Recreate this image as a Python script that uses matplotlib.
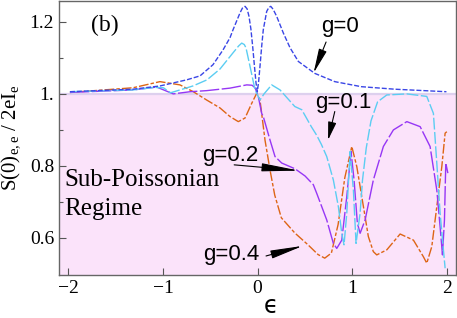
import matplotlib
matplotlib.use("Agg")
import matplotlib.pyplot as plt
from matplotlib.ticker import FixedLocator

plt.rcParams['mathtext.fontset'] = 'custom'
plt.rcParams['mathtext.rm'] = 'Liberation Serif'
plt.rcParams['mathtext.it'] = 'Liberation Serif:italic'

# ---- data ----
eps_g0 = [-1.984, -1.317, -1.032, -0.749, -0.608, -0.471, -0.365, -0.291, -0.259, -0.185,
          -0.16, -0.132, -0.11, -0.090, -0.070, -0.051, -0.030, -0.016, -0.002, 0.012, 0.026,
          0.045, 0.061, 0.097, 0.12, 0.140, 0.165, 0.203, 0.273, 0.344, 0.432, 0.605, 0.817,
          1.098, 1.452, 1.998]
S_g0 = [1.006, 1.013, 1.022, 1.039, 1.050, 1.081, 1.122, 1.156, 1.178, 1.225,
        1.238, 1.243, 1.236, 1.215, 1.180, 1.131, 1.070, 1.031, 1.006, 1.035, 1.076,
        1.135, 1.178, 1.229, 1.240, 1.243, 1.235, 1.215, 1.169, 1.128, 1.090, 1.057, 1.034,
        1.020, 1.013, 1.006]

eps_g01 = [-1.984, -1.317, -1.085, -0.995, -0.921, -0.820, -0.683, -0.534, -0.397, -0.259,
           -0.200, -0.167, -0.140, -0.122, -0.079, -0.026, 0.026, 0.069, 0.150, 0.238, 0.394,
           0.468, 0.569, 0.626, 0.675, 0.732, 0.802, 0.855, 0.891, 0.915, 0.944, 0.979, 1.014,
           1.042, 1.085, 1.110, 1.150, 1.200, 1.270, 1.367, 1.579, 1.790, 1.860, 1.896, 1.931,
           1.966, 1.984]
S_g01 = [1.006, 1.011, 1.018, 1.017, 1.003, 1.011, 1.022, 1.039, 1.069, 1.114,
         1.133, 1.141, 1.137, 1.128, 1.076, 1.011, 0.983, 1.000, 1.025, 1.011, 0.965,
         0.956, 0.909, 0.885, 0.860, 0.826, 0.761, 0.687, 0.613, 0.581, 0.669, 0.840, 0.733,
         0.585, 0.669, 0.760, 0.850, 0.925, 0.978, 0.997, 1.000, 0.993, 0.946, 0.808, 0.669,
         0.567, 0.516]

eps_g02 = [-1.984, -1.317, -1.067, -0.891, -0.714, -0.538, -0.291, -0.114, -0.058, -0.026,
           0.008, 0.044, 0.061, 0.132, 0.185, 0.256, 0.397, 0.503, 0.590, 0.626, 0.732, 0.802,
           0.838, 0.891, 0.944, 0.989, 1.021, 1.056, 1.085, 1.138, 1.225, 1.331, 1.437, 1.579,
           1.720, 1.825, 1.896, 1.931, 1.956, 1.977, 1.991, 2.013]
S_g02 = [1.004, 1.011, 1.019, 1.000, 1.006, 1.009, 1.016, 1.025, 1.024, 1.017,
         0.993, 0.946, 0.937, 0.872, 0.826, 0.808, 0.792, 0.772, 0.748, 0.724, 0.650, 0.585,
         0.571, 0.594, 0.715, 0.840, 0.761, 0.641, 0.613, 0.650, 0.761, 0.854, 0.900, 0.923,
         0.909, 0.854, 0.733, 0.631, 0.553, 0.650, 0.808, 0.780]

eps_g04 = [-1.984, -1.317, -1.032, -0.820, -0.679, -0.538, -0.397, -0.291, -0.203, -0.132,
           -0.061, -0.008, 0.026, 0.079, 0.132, 0.182, 0.252, 0.394, 0.534, 0.640, 0.711,
           0.781, 0.852, 0.923, 0.997, 1.050, 1.120, 1.172, 1.225, 1.261, 1.367, 1.508, 1.649,
           1.754, 1.790, 1.843, 1.896, 1.949, 1.984, 2.002]
S_g04 = [1.004, 1.017, 1.034, 1.025, 1.006, 0.983, 0.961, 0.937, 0.923, 0.933,
         0.974, 1.002, 0.983, 0.872, 0.789, 0.719, 0.656, 0.614, 0.581, 0.554, 0.544,
         0.558, 0.637, 0.767, 0.854, 0.798, 0.687, 0.604, 0.562, 0.553, 0.567, 0.611, 0.594,
         0.548, 0.530, 0.576, 0.687, 0.798, 0.891, 0.895]

xticks = [-2, -1, 0, 1, 2]
xticklabels = ['\u22122', '\u22121', '0', '1', '2']
yticks = [0.6, 0.8, 1.0, 1.2]
yticklabels = ['0.6', '0.8', '1.', '1.2']
yminor = [0.7, 0.9, 1.1]

# ---- figure ----
fig = plt.figure(figsize=(4.57, 3.18), dpi=100)
ax = fig.add_axes([0.129, 0.135, 0.869, 0.862])
ax.set_xlim(-2.1, 2.1)
ax.set_ylim(0.497, 1.258)

ax.axhspan(0.0, 1.0, color='#FBE3FA', zorder=0, lw=0)
ax.axhline(1.0, color='#DDD0EE', lw=1.6, zorder=1)

lw = 1.0
ax.plot(eps_g0, S_g0, color='#3A46E6', lw=lw, dashes=(3.6, 1.4), zorder=5)
ax.plot(eps_g01, S_g01, color='#5BCDF2', lw=lw, dashes=(8.5, 1.8), zorder=4)
ax.plot(eps_g02, S_g02, color='#9636F5', lw=lw, dashes=(14, 1.8), zorder=3)
ax.plot(eps_g04, S_g04, color='#DD6515', lw=lw, dashes=(7, 1.5, 2.5, 1.5), zorder=2)

ax.set_xticks(xticks)
ax.set_xticklabels(xticklabels)
ax.set_yticks(yticks)
ax.set_yticklabels(yticklabels)
ax.yaxis.set_minor_locator(FixedLocator(yminor))
ax.tick_params(which='both', direction='in', top=False, right=False, color='#555555',
               labelsize=14, width=0.8)
ax.tick_params(which='major', length=5)
ax.tick_params(which='minor', length=3)
for lab in ax.get_xticklabels() + ax.get_yticklabels():
    lab.set_fontfamily('Liberation Serif')
for sp in ax.spines.values():
    sp.set_color('#666666')
    sp.set_linewidth(1.0)

ax.set_ylabel(r'S(0)$_{\mathrm{e,e}}$ / 2eI$_{\mathrm{e}}$', fontfamily='Liberation Serif',
              fontsize=15)
ax.yaxis.set_label_coords(-0.092, 0.5)
ax.set_xlabel('\u03f5', fontfamily='DejaVu Sans', fontsize=17)
ax.xaxis.set_label_coords(0.535, -0.07)

ax.text(-1.62, 1.19, '(b)', fontfamily='Liberation Serif', fontsize=17, ha='center', va='center')
ax.text(-2.04, 0.762, 'Sub-Poissonian', fontfamily='Liberation Serif', fontsize=18,
        ha='left', va='center')
ax.text(-2.04, 0.68, 'Regime', fontfamily='Liberation Serif', fontsize=18,
        ha='left', va='center')

fs = 16
labels = [
    ('g=0', (0.873, 1.186), (0.725, 1.144), (0.593, 1.058), 1.5),
    ('g=0.1', (0.905, 0.975), (0.817, 0.951), (0.746, 0.872), 1.1),
    ('g=0.2', (-0.29, 0.828), (-0.247, 0.803), (0.44, 0.787), 2.3),
    ('g=0.4', (-0.275, 0.553), (0.09, 0.55), (0.48, 0.578), 2.0),
]
for txt, tpos, start, tip, hl in labels:
    ax.text(tpos[0], tpos[1], txt, fontsize=fs, fontfamily='Liberation Sans',
            ha='center', va='center', zorder=6)
    arrow = dict(arrowstyle='-|>,head_length=%.2f,head_width=0.25' % hl, color='black',
                 lw=0.8, shrinkA=0, shrinkB=0)
    ax.annotate('', xy=tip, xytext=start, arrowprops=arrow, zorder=6)

fig.savefig('out.png', dpi=100)
